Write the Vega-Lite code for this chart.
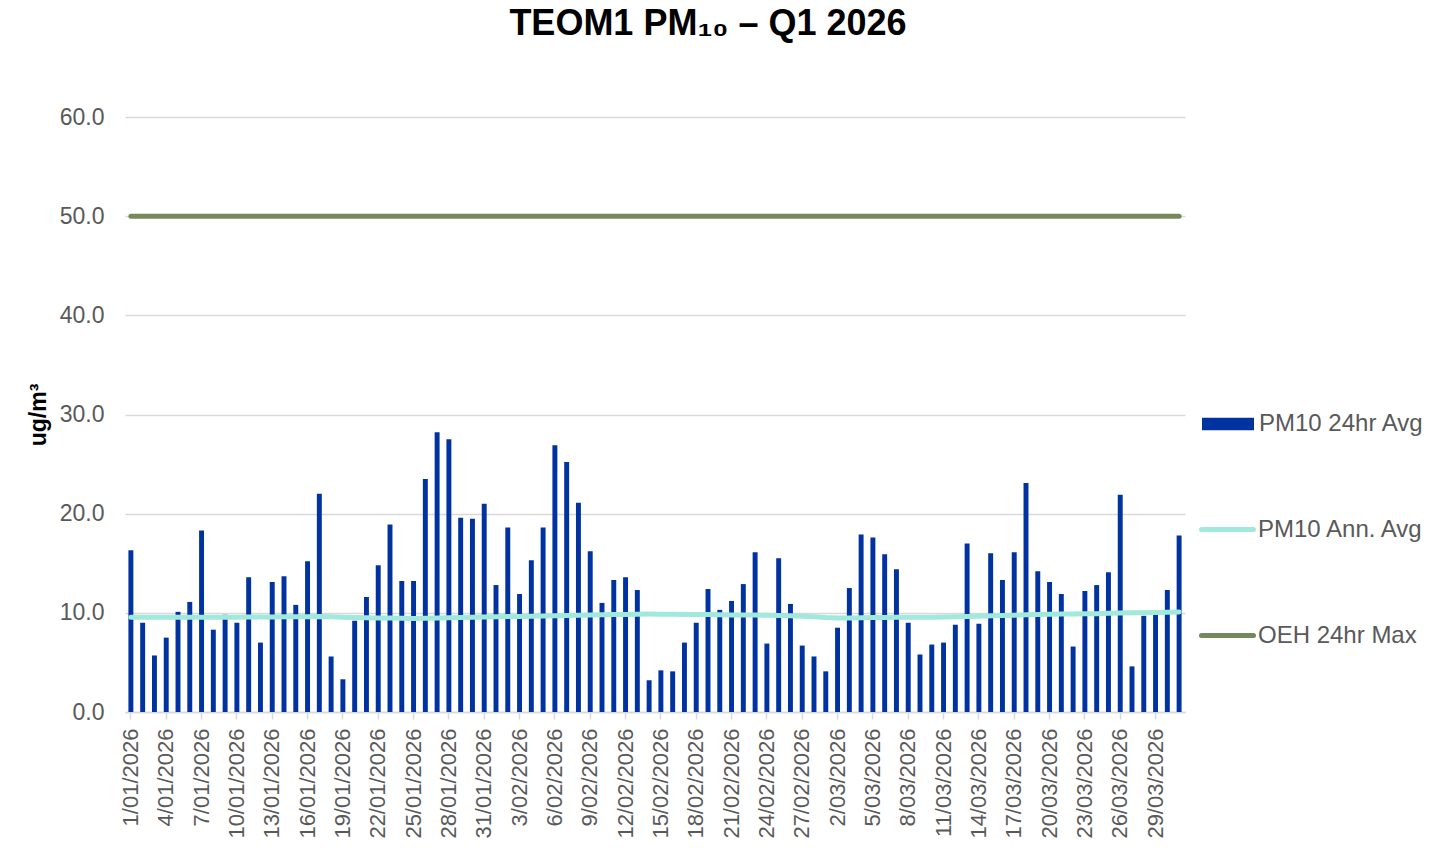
{
  "$schema": "https://vega.github.io/schema/vega-lite/v6.json",
  "width": 1060,
  "height": 595,
  "autosize": {"type": "none"},
  "padding": {"left": 125, "top": 117, "right": 268, "bottom": 136},
  "background": "white",
  "title": {
    "text": "TEOM1 PM₁₀ – Q1 2026",
    "font": "Liberation Sans",
    "fontSize": 36,
    "fontWeight": "bold",
    "color": "#000000",
    "anchor": "middle",
    "frame": "group",
    "baseline": "alphabetic",
    "dx": 53,
    "offset": 35
  },
  "config": {
    "font": "Liberation Sans",
    "view": {"stroke": null}
  },
  "resolve": {"scale": {"color": "independent"}, "legend": {"color": "independent"}},
  "data": {"values": [
    {"date": "1/01/2026", "pm10": 16.3, "ann": 9.55, "max": 50},
    {"date": "2/01/2026", "pm10": 9.0, "ann": 9.55, "max": 50},
    {"date": "3/01/2026", "pm10": 5.7, "ann": 9.55, "max": 50},
    {"date": "4/01/2026", "pm10": 7.5, "ann": 9.55, "max": 50},
    {"date": "5/01/2026", "pm10": 10.1, "ann": 9.55, "max": 50},
    {"date": "6/01/2026", "pm10": 11.1, "ann": 9.55, "max": 50},
    {"date": "7/01/2026", "pm10": 18.3, "ann": 9.55, "max": 50},
    {"date": "8/01/2026", "pm10": 8.3, "ann": 9.55, "max": 50},
    {"date": "9/01/2026", "pm10": 9.8, "ann": 9.55, "max": 50},
    {"date": "10/01/2026", "pm10": 9.0, "ann": 9.56, "max": 50},
    {"date": "11/01/2026", "pm10": 13.6, "ann": 9.57, "max": 50},
    {"date": "12/01/2026", "pm10": 7.0, "ann": 9.57, "max": 50},
    {"date": "13/01/2026", "pm10": 13.1, "ann": 9.58, "max": 50},
    {"date": "14/01/2026", "pm10": 13.7, "ann": 9.6, "max": 50},
    {"date": "15/01/2026", "pm10": 10.8, "ann": 9.6, "max": 50},
    {"date": "16/01/2026", "pm10": 15.2, "ann": 9.6, "max": 50},
    {"date": "17/01/2026", "pm10": 22.0, "ann": 9.62, "max": 50},
    {"date": "18/01/2026", "pm10": 5.6, "ann": 9.6, "max": 50},
    {"date": "19/01/2026", "pm10": 3.3, "ann": 9.55, "max": 50},
    {"date": "20/01/2026", "pm10": 9.2, "ann": 9.52, "max": 50},
    {"date": "21/01/2026", "pm10": 11.6, "ann": 9.5, "max": 50},
    {"date": "22/01/2026", "pm10": 14.8, "ann": 9.48, "max": 50},
    {"date": "23/01/2026", "pm10": 18.9, "ann": 9.47, "max": 50},
    {"date": "24/01/2026", "pm10": 13.2, "ann": 9.45, "max": 50},
    {"date": "25/01/2026", "pm10": 13.2, "ann": 9.43, "max": 50},
    {"date": "26/01/2026", "pm10": 23.5, "ann": 9.45, "max": 50},
    {"date": "27/01/2026", "pm10": 28.2, "ann": 9.48, "max": 50},
    {"date": "28/01/2026", "pm10": 27.5, "ann": 9.5, "max": 50},
    {"date": "29/01/2026", "pm10": 19.6, "ann": 9.53, "max": 50},
    {"date": "30/01/2026", "pm10": 19.5, "ann": 9.55, "max": 50},
    {"date": "31/01/2026", "pm10": 21.0, "ann": 9.58, "max": 50},
    {"date": "1/02/2026", "pm10": 12.8, "ann": 9.6, "max": 50},
    {"date": "2/02/2026", "pm10": 18.6, "ann": 9.62, "max": 50},
    {"date": "3/02/2026", "pm10": 11.9, "ann": 9.64, "max": 50},
    {"date": "4/02/2026", "pm10": 15.3, "ann": 9.66, "max": 50},
    {"date": "5/02/2026", "pm10": 18.6, "ann": 9.68, "max": 50},
    {"date": "6/02/2026", "pm10": 26.9, "ann": 9.7, "max": 50},
    {"date": "7/02/2026", "pm10": 25.2, "ann": 9.73, "max": 50},
    {"date": "8/02/2026", "pm10": 21.1, "ann": 9.75, "max": 50},
    {"date": "9/02/2026", "pm10": 16.2, "ann": 9.78, "max": 50},
    {"date": "10/02/2026", "pm10": 11.0, "ann": 9.8, "max": 50},
    {"date": "11/02/2026", "pm10": 13.3, "ann": 9.82, "max": 50},
    {"date": "12/02/2026", "pm10": 13.6, "ann": 9.84, "max": 50},
    {"date": "13/02/2026", "pm10": 12.3, "ann": 9.86, "max": 50},
    {"date": "14/02/2026", "pm10": 3.2, "ann": 9.87, "max": 50},
    {"date": "15/02/2026", "pm10": 4.2, "ann": 9.86, "max": 50},
    {"date": "16/02/2026", "pm10": 4.1, "ann": 9.85, "max": 50},
    {"date": "17/02/2026", "pm10": 7.0, "ann": 9.84, "max": 50},
    {"date": "18/02/2026", "pm10": 9.0, "ann": 9.83, "max": 50},
    {"date": "19/02/2026", "pm10": 12.4, "ann": 9.82, "max": 50},
    {"date": "20/02/2026", "pm10": 10.3, "ann": 9.8, "max": 50},
    {"date": "21/02/2026", "pm10": 11.2, "ann": 9.79, "max": 50},
    {"date": "22/02/2026", "pm10": 12.9, "ann": 9.78, "max": 50},
    {"date": "23/02/2026", "pm10": 16.1, "ann": 9.77, "max": 50},
    {"date": "24/02/2026", "pm10": 6.9, "ann": 9.75, "max": 50},
    {"date": "25/02/2026", "pm10": 15.5, "ann": 9.73, "max": 50},
    {"date": "26/02/2026", "pm10": 10.9, "ann": 9.7, "max": 50},
    {"date": "27/02/2026", "pm10": 6.7, "ann": 9.65, "max": 50},
    {"date": "28/02/2026", "pm10": 5.6, "ann": 9.6, "max": 50},
    {"date": "1/03/2026", "pm10": 4.1, "ann": 9.52, "max": 50},
    {"date": "2/03/2026", "pm10": 8.5, "ann": 9.47, "max": 50},
    {"date": "3/03/2026", "pm10": 12.5, "ann": 9.47, "max": 50},
    {"date": "4/03/2026", "pm10": 17.9, "ann": 9.5, "max": 50},
    {"date": "5/03/2026", "pm10": 17.6, "ann": 9.52, "max": 50},
    {"date": "6/03/2026", "pm10": 15.9, "ann": 9.54, "max": 50},
    {"date": "7/03/2026", "pm10": 14.4, "ann": 9.56, "max": 50},
    {"date": "8/03/2026", "pm10": 9.0, "ann": 9.56, "max": 50},
    {"date": "9/03/2026", "pm10": 5.8, "ann": 9.55, "max": 50},
    {"date": "10/03/2026", "pm10": 6.8, "ann": 9.56, "max": 50},
    {"date": "11/03/2026", "pm10": 7.0, "ann": 9.58, "max": 50},
    {"date": "12/03/2026", "pm10": 8.8, "ann": 9.6, "max": 50},
    {"date": "13/03/2026", "pm10": 17.0, "ann": 9.63, "max": 50},
    {"date": "14/03/2026", "pm10": 8.9, "ann": 9.66, "max": 50},
    {"date": "15/03/2026", "pm10": 16.0, "ann": 9.7, "max": 50},
    {"date": "16/03/2026", "pm10": 13.3, "ann": 9.73, "max": 50},
    {"date": "17/03/2026", "pm10": 16.1, "ann": 9.76, "max": 50},
    {"date": "18/03/2026", "pm10": 23.1, "ann": 9.8, "max": 50},
    {"date": "19/03/2026", "pm10": 14.2, "ann": 9.83, "max": 50},
    {"date": "20/03/2026", "pm10": 13.1, "ann": 9.85, "max": 50},
    {"date": "21/03/2026", "pm10": 11.9, "ann": 9.87, "max": 50},
    {"date": "22/03/2026", "pm10": 6.6, "ann": 9.88, "max": 50},
    {"date": "23/03/2026", "pm10": 12.2, "ann": 9.9, "max": 50},
    {"date": "24/03/2026", "pm10": 12.8, "ann": 9.92, "max": 50},
    {"date": "25/03/2026", "pm10": 14.1, "ann": 9.95, "max": 50},
    {"date": "26/03/2026", "pm10": 21.9, "ann": 9.98, "max": 50},
    {"date": "27/03/2026", "pm10": 4.6, "ann": 10.0, "max": 50},
    {"date": "28/03/2026", "pm10": 9.7, "ann": 10.02, "max": 50},
    {"date": "29/03/2026", "pm10": 10.2, "ann": 10.04, "max": 50},
    {"date": "30/03/2026", "pm10": 12.3, "ann": 10.06, "max": 50},
    {"date": "31/03/2026", "pm10": 17.8, "ann": 10.08, "max": 50}
  ]},
  "encoding": {
    "x": {
      "field": "date",
      "type": "ordinal",
      "sort": null,
      "title": null,
      "scale": {"paddingInner": 0.58, "paddingOuter": 0.29},
      "axis": {
        "values": ["1/01/2026","4/01/2026","7/01/2026","10/01/2026","13/01/2026","16/01/2026","19/01/2026","22/01/2026","25/01/2026","28/01/2026","31/01/2026","3/02/2026","6/02/2026","9/02/2026","12/02/2026","15/02/2026","18/02/2026","21/02/2026","24/02/2026","27/02/2026","2/03/2026","5/03/2026","8/03/2026","11/03/2026","14/03/2026","17/03/2026","20/03/2026","23/03/2026","26/03/2026","29/03/2026"],
        "labelAngle": -90,
        "labelAlign": "right",
        "labelBaseline": "middle",
        "labelFontSize": 22,
        "labelColor": "#595959",
        "labelPadding": 9,
        "tickSize": 7,
        "tickColor": "#d9d9d9",
        "tickWidth": 1.5,
        "domainColor": "#d9d9d9",
        "domainWidth": 1.5,
        "grid": false,
        "labelOverlap": false,
        "encode": {
          "ticks": {"update": {"x": {"scale": "x", "field": "value", "band": 0, "offset": -3.4}}}
        }
      }
    }
  },
  "layer": [
    {
      "mark": {"type": "bar"},
      "encoding": {
        "y": {
          "field": "pm10",
          "type": "quantitative",
          "title": "ug/m³",
          "scale": {"domain": [0, 60], "nice": false},
          "axis": {
            "values": [0, 10, 20, 30, 40, 50, 60],
            "format": ".1f",
            "labelFontSize": 23,
            "labelColor": "#595959",
            "labelPadding": 21,
            "ticks": false,
            "domain": false,
            "grid": true,
            "gridColor": "#d9d9d9",
            "gridWidth": 1.5,
            "titleFontSize": 23,
            "titleFontWeight": "bold",
            "titleColor": "#000000",
            "titlePadding": 9
          }
        },
        "color": {
          "datum": "PM10 24hr Avg",
          "scale": {"domain": ["PM10 24hr Avg"], "range": ["#0033A0"]},
          "legend": {
            "title": null, "orient": "none", "legendX": 1077, "legendY": 281, "padding": 0,
            "symbolType": "M-1,-0.24H1V0.24H-1Z", "symbolSize": 2704, "symbolStrokeWidth": 0,
            "labelOffset": 5, "labelFontSize": 24, "labelColor": "#595959", "labelLimit": 300
          }
        }
      }
    },
    {
      "mark": {"type": "line", "strokeWidth": 5, "strokeCap": "round"},
      "encoding": {
        "y": {"field": "ann", "type": "quantitative"},
        "color": {
          "datum": "PM10 Ann. Avg",
          "scale": {"domain": ["PM10 Ann. Avg"], "range": ["#A0E9DC"]},
          "legend": {
            "title": null, "orient": "none", "legendX": 1074, "legendY": 384, "padding": 0,
            "symbolType": "stroke", "symbolSize": 2704, "symbolStrokeWidth": 5,
            "labelOffset": 2, "labelFontSize": 24, "labelColor": "#595959", "labelLimit": 300,
            "encode": {"symbols": {"update": {"strokeCap": {"value": "round"}}}}
          }
        }
      }
    },
    {
      "mark": {"type": "line", "strokeWidth": 5, "strokeCap": "round"},
      "encoding": {
        "y": {"field": "max", "type": "quantitative"},
        "color": {
          "datum": "OEH 24hr Max",
          "scale": {"domain": ["OEH 24hr Max"], "range": ["#77895C"]},
          "legend": {
            "title": null, "orient": "none", "legendX": 1074, "legendY": 490, "padding": 0,
            "symbolType": "stroke", "symbolSize": 2704, "symbolStrokeWidth": 5,
            "labelOffset": 2, "labelFontSize": 24, "labelColor": "#595959", "labelLimit": 300,
            "encode": {"symbols": {"update": {"strokeCap": {"value": "round"}}}}
          }
        }
      }
    }
  ]
}
